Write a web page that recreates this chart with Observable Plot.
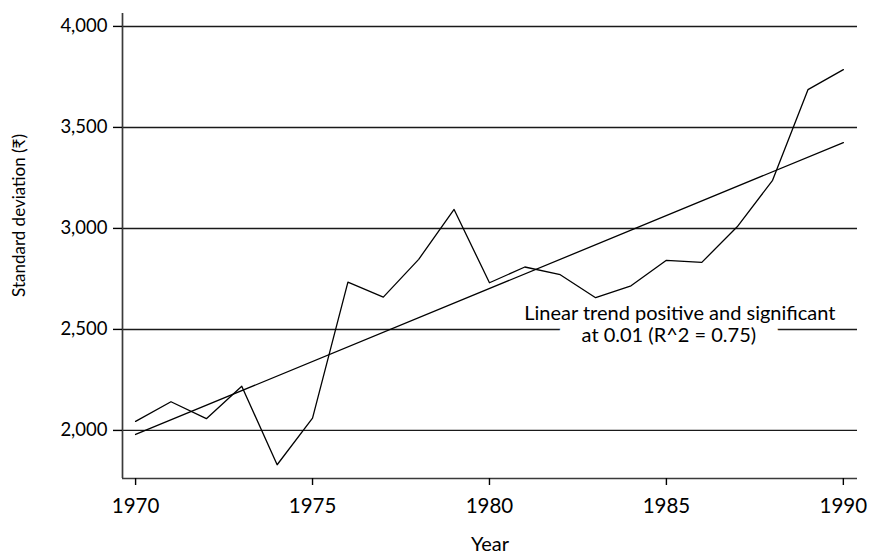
<!DOCTYPE html>
<html><head><meta charset="utf-8">
<script src="https://cdn.jsdelivr.net/npm/d3@7"></script>
<script src="https://cdn.jsdelivr.net/npm/@observablehq/plot@0.6"></script>
<style>body{margin:0;background:#fff}</style>
</head><body><div id="chart"></div>
<script>
const years = [1970,1971,1972,1973,1974,1975,1976,1977,1978,1979,1980,1981,1982,1983,1984,1985,1986,1987,1988,1989,1990];
const stdDev = [2045,2142,2058,2219,1830,2061,2734,2660,2847,3094,2731,2809,2771,2657,2716,2842,2832,3008,3238,3687,3786];
const trendYears = [1970,1990];
const trendValues = [1980,3425];
const yTicks = [2000,2500,3000,3500,4000];
const xTicks = [1970,1975,1980,1985,1990];
const xDomain = [1969.63,1990.4];
const yDomain = [1762,4064];
const noteLine1 = "Linear trend positive and significant";
const noteLine2 = "at 0.01 (R^2 = 0.75)";
const noteX = 1985.38, noteY = 2500;
const xTitle = "Year";
const yTitle = "Standard deviation (₹)";

const series = years.map((y,i)=>({year:y, value:stdDev[i]}));
const trend = trendYears.map((y,i)=>({year:y, value:trendValues[i]}));
const font = "Lato, 'Open Sans', 'DejaVu Sans', sans-serif";

const chart = Plot.plot({
  width: 869, height: 556,
  marginLeft: 122, marginRight: 12, marginTop: 13, marginBottom: 78,
  style: {fontFamily: font, fontSize: "18px", color: "#000", background: "#fff"},
  x: {domain: xDomain},
  y: {domain: yDomain},
  marks: [
    Plot.ruleY(yTicks, {stroke: "#1a1a1a", strokeWidth: 1.4}),
    Plot.ruleX([xDomain[0]], {stroke: "#3a3a3a", strokeWidth: 1.7}),
    Plot.ruleY([yDomain[0]], {stroke: "#3a3a3a", strokeWidth: 1.7}),
    Plot.axisY(yTicks, {tickSize: 9, tickPadding: 6, tickFormat: d3.format(","), label: null, fontSize: 18.5, strokeWidth: 1.4}),
    Plot.axisX(xTicks, {tickSize: 7, tickPadding: 13, tickFormat: d => String(d), label: null, fontSize: 20.5, strokeWidth: 1.4}),
    Plot.line(trend, {x: "year", y: "value", stroke: "#000", strokeWidth: 1.3}),
    Plot.line(series, {x: "year", y: "value", stroke: "#000", strokeWidth: 1.3}),
    Plot.text([noteLine2], {x: () => noteX, y: () => noteY, text: d => d, dx: -11, dy: 6.5, lineAnchor: "middle", fontSize: 20, fill: "#000", stroke: "#fff", strokeWidth: 46}),
    Plot.text([noteLine1], {x: () => noteX, y: () => noteY, text: d => d, dy: -16, lineAnchor: "middle", fontSize: 20, fill: "#000"}),
    Plot.text([xTitle], {frameAnchor: "bottom", dy: 66, lineAnchor: "middle", fontSize: 20, fill: "#000"}),
    Plot.text([yTitle], {frameAnchor: "left", textAnchor: "middle", lineAnchor: "middle", dx: -102.5, dy: -30.5, rotate: -90, fontSize: 17, fill: "#000"})
  ]
});
document.getElementById("chart").append(chart);
</script>
</body></html>
